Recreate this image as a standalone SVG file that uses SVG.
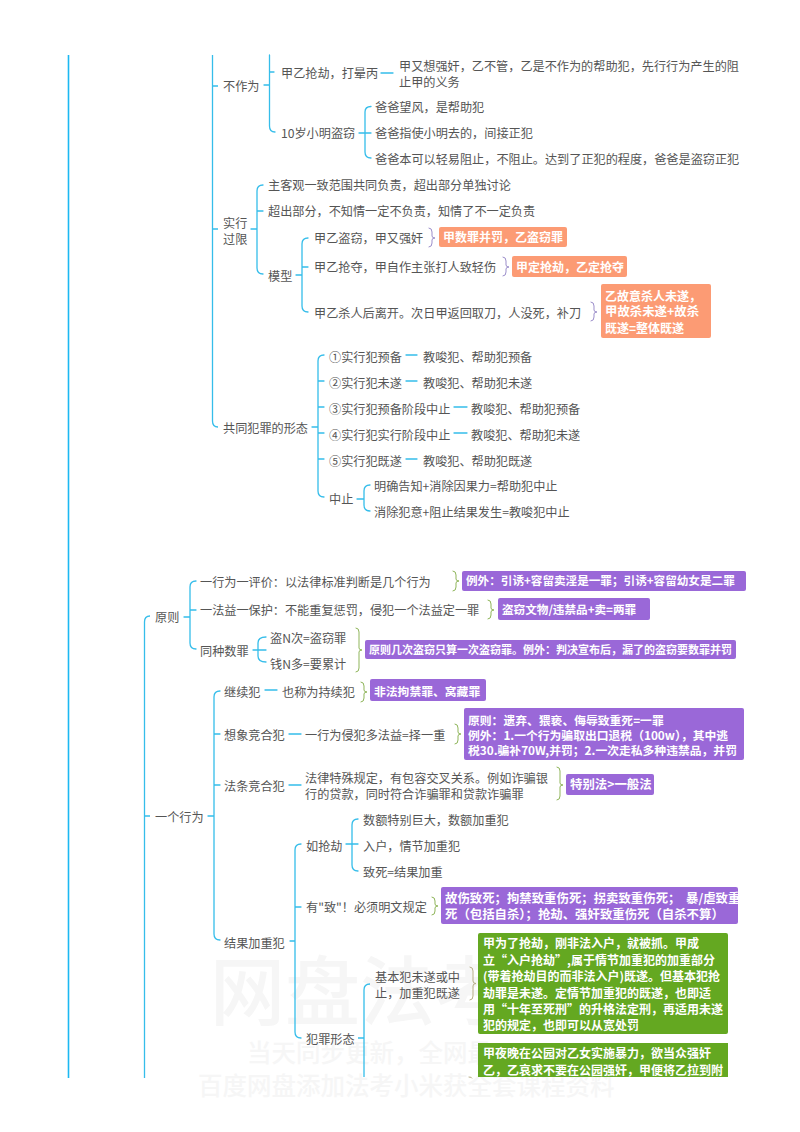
<svg xmlns="http://www.w3.org/2000/svg" width="800" height="1132" viewBox="0 0 800 1132">
<style>
text{font-family:"Noto Sans CJK SC","Noto Sans",sans-serif;font-size:12.15px;fill:#555;dominant-baseline:central;transform:translateY(-1px)}
.w{fill:#fff;font-weight:700;font-size:12px}
.s116{font-size:11.6px}.s11{font-size:11px}.s118{font-size:11.8px}.s124{font-size:12.4px;white-space:pre}
.wm{fill:#f6f6f6;font-weight:500}
.or{fill:#fc9b74}.pu{fill:#9a68d8}.gr{fill:#64a821}
#connectors path{fill:none;stroke:#35bdea;stroke-width:1.3;stroke-linecap:round}
#connectors .main{stroke:#1cb8f2;stroke-width:1.6;stroke-linecap:butt}
#connectors .b2{stroke-linecap:butt}
#connectors .br1{stroke:#9c8fcb;stroke-width:1}
#connectors .br2{stroke:#8fb55a;stroke-width:1}
#connectors .br3{stroke:#b7ad86;stroke-width:1}
</style>
<rect width="800" height="1132" fill="#fff"/>
<g id="watermark">
<text class="wm" x="210" y="987" style="font-size:75px">网盘法考</text>
<text class="wm" x="247" y="1052" style="font-size:24.5px">当天同步更新，全网最</text>
<text class="wm" x="198" y="1085" style="font-size:24.5px">百度网盘添加法考小米获全套课程资料</text>
</g>
<g id="connectors">
<path class="main" d="M68.5 55V1078"/>
<path class="b2" d="M212.5 55V421Q212.5 427 218 427M212.5 86H218M212.5 229H218"/>
<path class="b2" d="M144.5 1078V622Q144.5 616 150 616M144.5 816H150"/>
<path d="M264 85H269M269.5 55V126Q269.5 132 275 132M269.5 72H274"/>
<path d="M381 73H393M359 133H365M371 106.500Q365 106.500 365 112V152Q365 158 371 158M365 133H371"/>
<path d="M251 229H257M263 185Q257 185 257 191V268Q257 274 263 274M257 211H263"/>
<path d="M296 275H302M308 238Q302 238 302 244V306Q302 312 308 312M302 267H308"/>
<path d="M312 427H318M324 355Q318 355 318 361V491Q318 497 324 497M318 381H324M318 407H324M318 433H324M318 459H324"/>
<path d="M406 355H417M406 381H417M454 407H467M454 433H467M406 459H417"/>
<path d="M357 499H364M370 485Q364 485 364 491V505Q364 511 370 511"/>
<path d="M184 617H190M196 581Q190 581 190 587V643Q190 649 196 649M190 610H196"/>
<path d="M253 650H258M266 637Q258 637 258 643V656Q258 662 266 662M258 650H266"/>
<path d="M208 816H214M220 691Q214 691 214 697V934Q214 940 220 940M214 734H220M214 785H220"/>
<path d="M265 690H277M289 734H301M289 785H301"/>
<path d="M290 941H295M301 844Q295 844 295 850V1032Q295 1038 301 1038M295 907H301"/>
<path d="M346 844H358M358 819Q352 819 352 825V865Q352 871 358 871"/>
<path class="b2" d="M358 1038H364M370 984Q364 984 364 990V1077"/>
<path class="br1" d="M429 228Q432 228 432 232V236Q432 238 435 238Q432 238 432 240V243Q432 247 429 247"/>
<path class="br1" d="M503 257Q506 257 506 261V265Q506 267 509 267Q506 267 506 269V272Q506 276 503 276"/>
<path class="br1" d="M591 302Q594 302 594 306V310Q594 312 597 312Q594 312 594 314V317Q594 321 591 321"/>
<path class="br2" d="M453 571Q456 571 456 575V579Q456 581 459 581Q456 581 456 583V587Q456 591 453 591"/>
<path class="br2" d="M488 600Q491 600 491 604V608Q491 610 494 610Q491 610 491 612V615Q491 619 488 619"/>
<path class="br2" d="M356 628Q359 628 359 632V648Q359 650 362 650Q359 650 359 652V668Q359 672 356 672"/>
<path class="br2" d="M361 682Q364 682 364 686V690Q364 692 367 692Q364 692 364 694V698Q364 702 361 702"/>
<path class="br2" d="M455 724Q458 724 458 728V732Q458 734 461 734Q458 734 458 736V740Q458 744 455 744"/>
<path class="br2" d="M557 767Q560 767 560 771V783Q560 785 563 785Q560 785 560 787V796Q560 800 557 800"/>
<path class="br2" d="M432 897Q435 897 435 901V904Q435 906 438 906Q435 906 435 908V911Q435 915 432 915"/>
<path class="br3" d="M470 967Q473 967 473 971V981Q473 983.500 476 983.500Q473 983.500 473 986V996Q473 1000 470 1000"/>
<path class="br3" d="M469 1077Q472 1077 472 1078"/>
</g>
<g id="n-buzuowei"><text x="223" y="86">不作为</text></g>
<g id="n-qiangjie"><text x="281" y="73">甲乙抢劫，打晕丙</text></g>
<g id="n-qiangjie-d"><text x="399" y="66">甲又想强奸，乙不管，乙是不作为的帮助犯，先行行为产生的阻</text><text x="399" y="82">止甲的义务</text></g>
<g id="n-xiaoming"><text x="281" y="133">10岁小明盗窃</text></g>
<g id="n-baba1"><text x="375" y="107">爸爸望风，是帮助犯</text></g>
<g id="n-baba2"><text x="375" y="133.500">爸爸指使小明去的，间接正犯</text></g>
<g id="n-baba3"><text x="375" y="159">爸爸本可以轻易阻止，不阻止。达到了正犯的程度，爸爸是盗窃正犯</text></g>
<g id="n-guoxian"><text x="223" y="223">实行</text><text x="223" y="239">过限</text></g>
<g id="n-gx1"><text x="268" y="185">主客观一致范围共同负责，超出部分单独讨论</text></g>
<g id="n-gx2"><text x="268" y="211">超出部分，不知情一定不负责，知情了不一定负责</text></g>
<g id="n-moxing"><text x="268" y="276">模型</text></g>
<g id="n-mx1"><text x="314" y="238">甲乙盗窃，甲又强奸</text></g>
<g id="n-mx2"><text x="314" y="267">甲乙抢夺，甲自作主张打人致轻伤</text></g>
<g id="n-mx3"><text x="314" y="313">甲乙杀人后离开。次日甲返回取刀，人没死，补刀</text></g>
<g id="note-mx1"><rect class="or" x="439" y="227" width="128" height="20" rx="2"/><text class="w" x="443" y="237.500">甲数罪并罚，乙盗窃罪</text></g>
<g id="note-mx2"><rect class="or" x="512" y="256" width="115" height="21" rx="2"/><text class="w" x="516" y="267">甲定抢劫，乙定抢夺</text></g>
<g id="note-mx3"><rect class="or" x="601" y="284" width="110" height="54" rx="2"/><text class="w" x="605" y="296">乙故意杀人未遂，</text><text class="w s124" x="605" y="312">甲故杀未遂+故杀</text><text class="w" x="605" y="328">既遂=整体既遂</text></g>
<g id="n-xingtai"><text x="223" y="428">共同犯罪的形态</text></g>
<g id="n-xt1"><text x="329" y="357">①实行犯预备</text></g>
<g id="n-xt1d"><text x="423" y="357">教唆犯、帮助犯预备</text></g>
<g id="n-xt2"><text x="329" y="383">②实行犯未遂</text></g>
<g id="n-xt2d"><text x="423" y="383">教唆犯、帮助犯未遂</text></g>
<g id="n-xt3"><text x="329" y="409">③实行犯预备阶段中止</text></g>
<g id="n-xt3d"><text x="471" y="409">教唆犯、帮助犯预备</text></g>
<g id="n-xt4"><text x="329" y="435">④实行犯实行阶段中止</text></g>
<g id="n-xt4d"><text x="471" y="435">教唆犯、帮助犯未遂</text></g>
<g id="n-xt5"><text x="329" y="461">⑤实行犯既遂</text></g>
<g id="n-xt5d"><text x="423" y="461">教唆犯、帮助犯既遂</text></g>
<g id="n-zhongzhi"><text x="329" y="499">中止</text></g>
<g id="n-zz1"><text x="374" y="486">明确告知+消除因果力=帮助犯中止</text></g>
<g id="n-zz2"><text x="374" y="512">消除犯意+阻止结果发生=教唆犯中止</text></g>
<g id="n-yuanze"><text x="155" y="617">原则</text></g>
<g id="n-yz1"><text x="200" y="582">一行为一评价：以法律标准判断是几个行为</text></g>
<g id="n-yz2"><text x="200" y="610">一法益一保护：不能重复惩罚，侵犯一个法益定一罪</text></g>
<g id="n-yz3"><text x="200" y="651">同种数罪</text></g>
<g id="n-yz3a"><text x="270" y="638">盗N次=盗窃罪</text></g>
<g id="n-yz3b"><text x="270" y="664">钱N多=要累计</text></g>
<g id="note-yz1"><rect class="pu" x="462" y="571" width="284" height="20" rx="2"/><text class="w s116" x="466" y="581">例外：引诱+容留卖淫是一罪；引诱+容留幼女是二罪</text></g>
<g id="note-yz2"><rect class="pu" x="498" y="598" width="152" height="22" rx="2"/><text class="w s116" x="502" y="610">盗窃文物/违禁品+卖=两罪</text></g>
<g id="note-yz3"><rect class="pu" x="365" y="640" width="371" height="19" rx="2"/><text class="w s11" x="369" y="650">原则几次盗窃只算一次盗窃罪。例外：判决宣布后，漏了的盗窃要数罪并罚</text></g>
<g id="n-yigexingwei"><text x="155" y="817">一个行为</text></g>
<g id="n-jixu"><text x="224" y="692">继续犯</text></g>
<g id="n-jixu-d"><text x="282" y="692">也称为持续犯</text></g>
<g id="note-jixu"><rect class="pu" x="370" y="679" width="116" height="22" rx="2"/><text class="w s118" x="374" y="691">非法拘禁罪、窝藏罪</text></g>
<g id="n-xiangxiang"><text x="224" y="735">想象竞合犯</text></g>
<g id="n-xiangxiang-d"><text x="305" y="735">一行为侵犯多法益=择一重</text></g>
<g id="note-xiangxiang"><rect class="pu" x="464" y="708" width="280" height="52" rx="2"/><text class="w s118" x="468" y="720">原则：遗弃、猥亵、侮辱致重死=一罪</text><text class="w s118" x="468" y="735">例外：1.一个行为骗取出口退税（100w），其中逃</text><text class="w s118" x="468" y="750">税30.骗补70W,并罚；2.一次走私多种违禁品，并罚</text></g>
<g id="n-fatiao"><text x="224" y="786">法条竞合犯</text></g>
<g id="n-fatiao-d"><text x="305" y="778">法律特殊规定，有包容交叉关系。例如诈骗银</text><text x="305" y="794">行的贷款，同时符合诈骗罪和贷款诈骗罪</text></g>
<g id="note-fatiao"><rect class="pu" x="566" y="774" width="88" height="21" rx="2"/><text class="w s124" x="570" y="785">特别法&gt;一般法</text></g>
<g id="n-jieguo"><text x="224" y="943">结果加重犯</text></g>
<g id="n-ruqiangjie"><text x="306" y="846">如抢劫</text></g>
<g id="n-rq1"><text x="363" y="820">数额特别巨大，数额加重犯</text></g>
<g id="n-rq2"><text x="363" y="846">入户，情节加重犯</text></g>
<g id="n-rq3"><text x="363" y="872">致死=结果加重</text></g>
<g id="n-zhi"><text x="306" y="907">有"致"！必须明文规定</text></g>
<g id="note-zhi"><rect class="pu" x="441" y="887" width="297" height="37" rx="2"/><text class="w s124" x="445" y="899">故伤致死；拘禁致重伤死；拐卖致重伤死；  暴/虐致重</text><text class="w s124" x="445" y="915">死（包括自杀）；抢劫、强奸致重伤死（自杀不算）</text></g>
<g id="n-fanzui"><text x="306" y="1039">犯罪形态</text></g>
<g id="n-jiben"><text x="375" y="977">基本犯未遂或中</text><text x="375" y="993">止，加重犯既遂</text></g>
<g id="note-jiben"><rect class="gr" x="478" y="933" width="250" height="101" rx="2"/><text class="w" x="483" y="943">甲为了抢劫，刚非法入户，就被抓。甲成</text><text class="w" x="483" y="960">立“入户抢劫”,属于情节加重犯的加重部分</text><text class="w" x="483" y="976">(带着抢劫目的而非法入户)既遂。但基本犯抢</text><text class="w" x="483" y="993">劫罪是未遂。定情节加重犯的既遂，也即适</text><text class="w" x="483" y="1009">用“十年至死刑”的升格法定刑，再适用未遂</text><text class="w" x="483" y="1025">犯的规定，也即可以从宽处罚</text></g>
<g id="note-gongyuan"><rect class="gr" x="478" y="1043" width="250" height="34"/><text class="w" x="483" y="1053">甲夜晚在公园对乙女实施暴力，欲当众强奸</text><text class="w" x="483" y="1070">乙，乙哀求不要在公园强奸，甲便将乙拉到附</text></g>
</svg>
